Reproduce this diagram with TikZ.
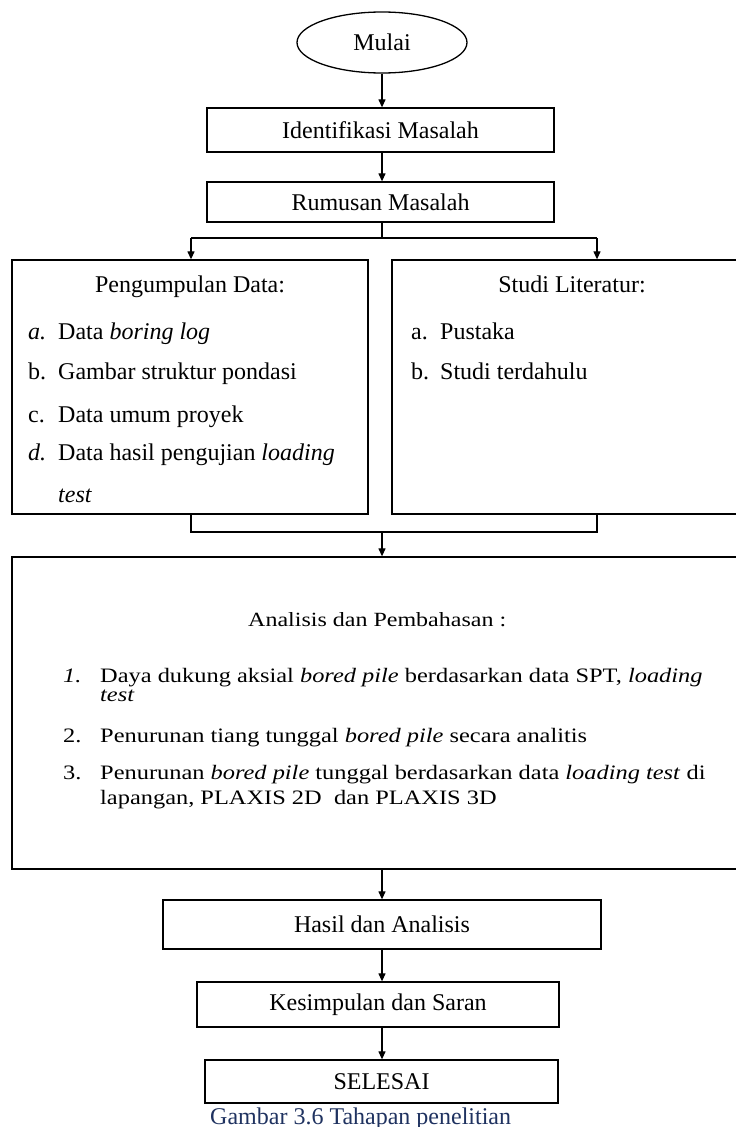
\documentclass[tikz,border=0pt]{standalone}
\usepackage{graphicx}
\usepackage{fontspec}
\setmainfont{Liberation Serif}
\usetikzlibrary{shapes.geometric,arrows.meta}
\definecolor{capblue}{RGB}{31,50,96}
\newcommand{\squash}[1]{\scalebox{1}[0.84]{#1}}
\begin{document}
\begin{tikzpicture}[x=1pt,y=-1pt,
  box/.style={draw, line width=1.3pt, rectangle, inner sep=0pt, font=\fontsize{24}{28}\selectfont},
  ln/.style={line width=1.2pt},
  arr/.style={line width=1.2pt, -{Triangle[width=7pt,length=8pt]}},
  big/.style={font=\fontsize{24}{28}\selectfont, inner sep=0pt, anchor=base},
  itm/.style={font=\fontsize{24}{28}\selectfont, anchor=base west, inner sep=0pt},
  sm/.style={font=\fontsize{24.4}{28}\selectfont, anchor=base west, inner sep=0pt}]
\useasboundingbox (0,0) rectangle (736,1127);
\clip (0,0) rectangle (736,1127);
% main chain
\node[box, ellipse, minimum width=170pt, minimum height=61pt] (mulai) at (382,42.5) {Mulai};
\node[box, minimum width=347pt, minimum height=44pt] (ident) at (380.5,130) {Identifikasi Masalah};
\node[box, minimum width=347pt, minimum height=40pt] (rumus) at (380.5,202) {Rumusan Masalah};
% two boxes
\node[box, minimum width=356pt, minimum height=254pt] (leftbox) at (190,387) {};
\node[box, minimum width=353pt, minimum height=254pt] (rightbox) at (568.5,387) {};
\node[big] (lhead) at (190,292) {Pengumpulan Data:};
\node[itm] (la) at (28,339) {\textit{a.}};
\node[itm] (lat) at (58,339) {Data \textit{boring log}};
\node[itm] (lb) at (28,379) {b.};
\node[itm] (lbt) at (58,379) {Gambar struktur pondasi};
\node[itm] (lc) at (28,422) {c.};
\node[itm] (lct) at (58,422) {Data umum proyek};
\node[itm] (ld) at (28,460) {\textit{d.}};
\node[itm] (ldt) at (58,460) {Data hasil pengujian \textit{loading}};
\node[itm] (ldt2) at (58,502) {\textit{test}};
\node[big] (rhead) at (572,292) {Studi Literatur:};
\node[itm] (ra) at (411,339) {a.};
\node[itm] (rat) at (440,339) {Pustaka};
\node[itm] (rb) at (411,379) {b.};
\node[itm] (rbt) at (440,379) {Studi terdahulu};
% big box
\node[box, minimum width=733pt, minimum height=312pt] (bigbox) at (378.5,713) {};
\node[big, anchor=base west] (bhead) at (248,626) {\squash{Analisis dan Pembahasan :}};
\node[sm] (b1) at (63,682) {\squash{\textit{1.}}};
\node[sm] (b1t) at (100,682) {\squash{Daya dukung aksial \textit{bored pile} berdasarkan data SPT, \textit{loading}}};
\node[sm] (b1t2) at (100,701) {\squash{\textit{test}}};
\node[sm] (b2) at (63,742) {\squash{2.}};
\node[sm] (b2t) at (100,742) {\squash{Penurunan tiang tunggal \textit{bored pile} secara analitis}};
\node[sm] (b3) at (63,779) {\squash{3.}};
\node[sm] (b3t) at (100,779) {\squash{Penurunan \textit{bored pile} tunggal berdasarkan data \textit{loading test} di}};
\node[sm] (b3t2) at (100,804) {\squash{lapangan, PLAXIS 2D\ \ dan PLAXIS 3D}};
% lower chain
\node[box, minimum width=438pt, minimum height=49pt] (hasil) at (382,924.5) {Hasil dan Analisis};
\node[box, minimum width=362pt, minimum height=45pt] (kesim) at (378,1004.5) {Kesimpulan dan Saran};
\node[box, minimum width=353pt, minimum height=43pt] (selesai) at (381.5,1081.5) {SELESAI};
\node[font=\fontsize{24}{28}\selectfont, text=capblue, anchor=base west, inner sep=0pt] (cap) at (210,1124) {Gambar 3.6 Tahapan penelitian};
% connectors
\coordinate (brM) at (382,238);
\coordinate (brL) at (191,238);
\coordinate (brR) at (597,238);
\coordinate (jM) at (382,532);
\coordinate (jL) at (191,532);
\coordinate (jR) at (597,532);
\draw[arr] (mulai.south -| brM) -- (ident.north -| brM);
\draw[arr] (ident.south -| brM) -- (rumus.north -| brM);
\draw[ln] (rumus.south -| brM) -- (brM);
\draw[ln] (brL) -- (brR);
\draw[arr] (brL) -- (brL |- leftbox.north);
\draw[arr] (brR) -- (brR |- rightbox.north);
\draw[ln] (jL |- leftbox.south) -- (jL) -- (jR) -- (jR |- rightbox.south);
\draw[arr] (jM) -- (jM |- bigbox.north);
\draw[arr] (hasil.north |- bigbox.south) -- (hasil.north);
\draw[arr] (hasil.south) -- (hasil.south |- kesim.north);
\draw[arr] (hasil.south |- kesim.south) -- (hasil.south |- selesai.north);
\end{tikzpicture}
\end{document}
